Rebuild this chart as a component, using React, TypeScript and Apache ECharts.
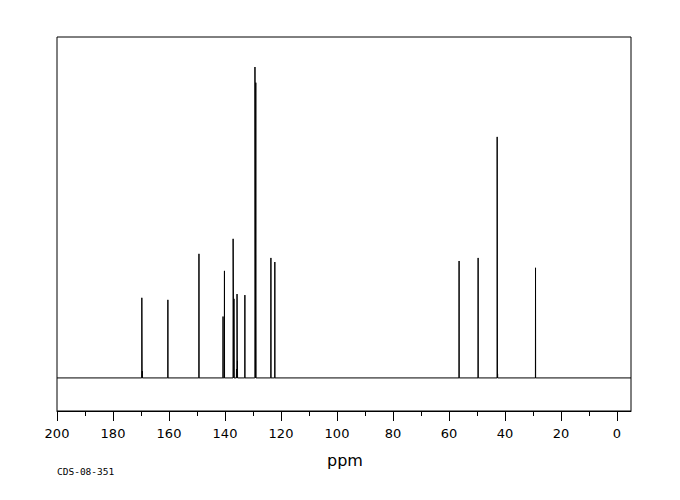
import React, { useEffect, useRef } from "react";
import * as echarts from "echarts";

// 13C NMR peak list (ppm) and relative intensities
const peakShifts = [169.7, 169.55, 160.4, 149.3, 140.7, 140.2, 137.1, 136.8, 135.9, 135.7, 135.55, 132.9, 129.3, 129.0, 123.6, 122.2, 56.4, 49.6, 42.8, 42.65, 29.1];
const peakHeights = [23.5, 2.0, 22.9, 36.4, 18.0, 31.4, 40.8, 23.2, 2.6, 24.6, 5.0, 24.3, 91.2, 86.6, 35.2, 34.0, 34.3, 35.2, 70.7, 1.2, 32.3];

const majorTicks = [0, 20, 40, 60, 80, 100, 120, 140, 160, 180, 200];
const minorTicks = [10, 30, 50, 70, 90, 110, 130, 150, 170, 190];
const xRange = [-5, 200];
const xLabel = "ppm";
const sampleCode = "CDS-08-351";

function buildSpectrum(): number[][] {
  const peaks = peakShifts.map((p, i) => [p, peakHeights[i]]).sort((a, b) => a[0] - b[0]);
  const pts: number[][] = [[xRange[0], 0]];
  const w = 0.04;
  for (const [p, h] of peaks) {
    pts.push([p - w, 0]);
    pts.push([p, h]);
    pts.push([p + w, 0]);
  }
  pts.push([xRange[1], 0]);
  return pts;
}

export default function App() {
  const ref = useRef<HTMLDivElement>(null);
  useEffect(() => {
    if (!ref.current) return;
    const chart = echarts.init(ref.current, null, { renderer: "svg" });
    chart.setOption({
      animation: false,
      backgroundColor: "#ffffff",
      grid: {
        left: 57,
        right: 49,
        top: 37,
        bottom: 89,
        show: true,
        borderColor: "#000",
        borderWidth: 1,
        backgroundColor: "transparent",
      },
      xAxis: [
        {
          type: "value",
          inverse: true,
          min: xRange[0],
          max: xRange[1],
          position: "bottom",
          axisLine: { show: true, onZero: false, lineStyle: { color: "#000", width: 1 } },
          axisTick: { show: true, length: 10, customValues: majorTicks, lineStyle: { color: "#000" } },
          axisLabel: {
            show: true,
            customValues: majorTicks,
            color: "#000",
            fontFamily: "DejaVu Sans",
            fontSize: 13,
            margin: 16,
          },
          splitLine: { show: false },
        },
        {
          type: "value",
          inverse: true,
          min: xRange[0],
          max: xRange[1],
          position: "bottom",
          axisLine: { show: false, onZero: false },
          axisTick: { show: true, length: 5, customValues: minorTicks, lineStyle: { color: "#000" } },
          axisLabel: { show: false },
          splitLine: { show: false },
        },
      ],
      yAxis: {
        type: "value",
        min: -9.7,
        max: 100,
        show: false,
        splitLine: { show: false },
      },
      series: [
        {
          type: "line",
          xAxisIndex: 0,
          data: buildSpectrum(),
          showSymbol: false,
          symbol: "none",
          lineStyle: { color: "#000", width: 1 },
          silent: true,
        },
      ],
      graphic: [
        {
          type: "text",
          left: 327,
          top: 452,
          style: { text: xLabel, fontFamily: "DejaVu Sans", fontSize: 16, fill: "#000" },
        },
        {
          type: "text",
          left: 57,
          top: 466,
          style: { text: sampleCode, fontFamily: "DejaVu Sans Mono", fontSize: 9.5, fill: "#000" },
        },
      ],
    });
    return () => chart.dispose();
  }, []);
  return (
    <div
      ref={ref}
      style={{ position: "fixed", left: 0, top: 0, width: 680, height: 500 }}
    />
  );
}
